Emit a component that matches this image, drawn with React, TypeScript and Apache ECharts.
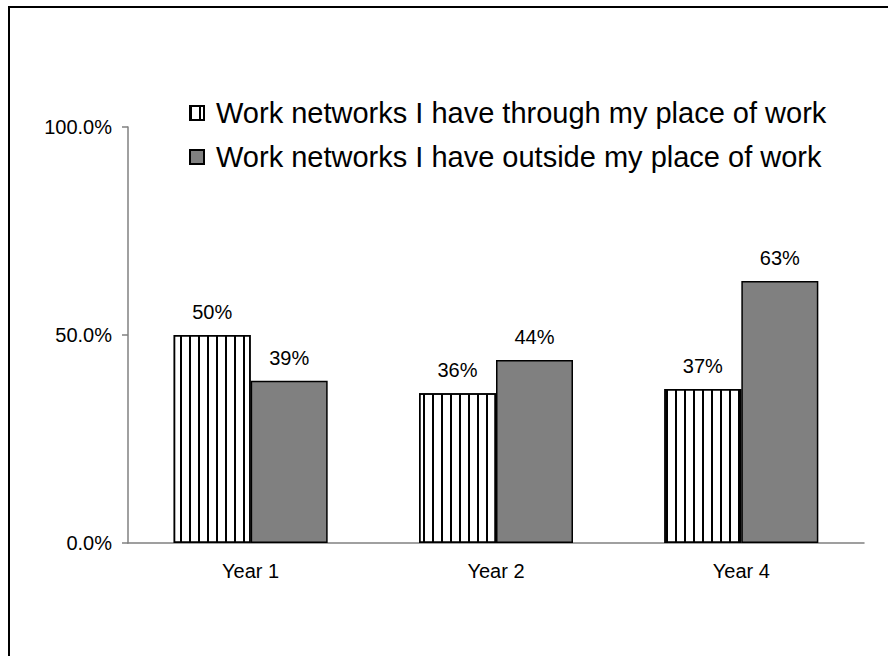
import React, { useEffect, useRef } from "react";
import * as echarts from "echarts";

const categories = ["Year 1", "Year 2", "Year 4"];
const seriesNames = [
  "Work networks I have through my place of work",
  "Work networks I have outside my place of work",
];
const throughWork = [50, 36, 37];
const outsideWork = [39, 44, 63];
const yMin = 0;
const yMax = 100;
const yStep = 50;

export default function App() {
  const ref = useRef<HTMLDivElement>(null);
  useEffect(() => {
    document.body.style.margin = "0";
    document.body.style.overflow = "hidden";
    const chart = echarts.init(ref.current!, null, { renderer: "svg" });
    const font = "'Liberation Sans', Arial, sans-serif";
    const labelStyle = {
      show: true,
      position: "top",
      distance: 13,
      formatter: "{c}%",
      fontSize: 20,
      color: "#000",
      fontFamily: font,
    };
    chart.setOption({
      animation: false,
      backgroundColor: "#fff",
      textStyle: { fontFamily: font },
      graphic: [
        {
          type: "line",
          silent: true,
          shape: { x1: 8, y1: 7, x2: 900, y2: 7 },
          style: { stroke: "#000", lineWidth: 2 },
        },
        {
          type: "line",
          silent: true,
          shape: { x1: 9, y1: 6, x2: 9, y2: 700 },
          style: { stroke: "#000", lineWidth: 2 },
        },
      ],
      legend: {
        orient: "vertical",
        left: 184,
        top: 93,
        itemWidth: 14,
        itemHeight: 14,
        itemGap: 14,
        textStyle: {
          fontSize: 29,
          lineHeight: 30,
          color: "#000",
          fontFamily: font,
          padding: [0, 0, 0, 7],
        },
        data: [
          { name: seriesNames[0], icon: "rect" },
          { name: seriesNames[1], icon: "rect" },
        ],
      },
      grid: { left: 128, right: 24, top: 127, bottom: 113 },
      xAxis: {
        type: "category",
        data: categories,
        axisLine: { lineStyle: { color: "#808080", width: 1.5 } },
        axisTick: { length: 5, lineStyle: { color: "#808080", width: 1.5 } },
        axisLabel: { color: "#000", fontSize: 20, margin: 18, fontFamily: font },
      },
      yAxis: {
        type: "value",
        min: yMin,
        max: yMax,
        interval: yStep,
        axisLine: { show: true, lineStyle: { color: "#808080", width: 1.5 } },
        axisTick: { show: true, length: 6, lineStyle: { color: "#808080", width: 1.5 } },
        splitLine: { show: false },
        axisLabel: {
          color: "#000",
          fontSize: 20,
          margin: 16,
          fontFamily: font,
          formatter: (v: number) => v.toFixed(1) + "%",
        },
      },
      series: [
        {
          type: "bar",
          name: seriesNames[0],
          data: throughWork,
          barWidth: 77,
          barGap: "0%",
          itemStyle: {
            color: "#fff",
            borderColor: "#000",
            borderWidth: 1.5,
            decal: {
              symbol: "rect",
              symbolSize: 1,
              dashArrayX: [1.3, 6.4],
              dashArrayY: [10, 0],
              color: "#000",
              rotation: 0,
            },
          },
          label: labelStyle,
        },
        {
          type: "bar",
          name: seriesNames[1],
          data: outsideWork,
          barWidth: 77,
          barGap: "0%",
          itemStyle: { color: "#808080", borderColor: "#000", borderWidth: 1.5 },
          label: labelStyle,
        },
      ],
    });
    return () => chart.dispose();
  }, []);
  return (
    <div
      ref={ref}
      style={{ position: "fixed", left: 0, top: 0, width: 888, height: 656 }}
    />
  );
}
